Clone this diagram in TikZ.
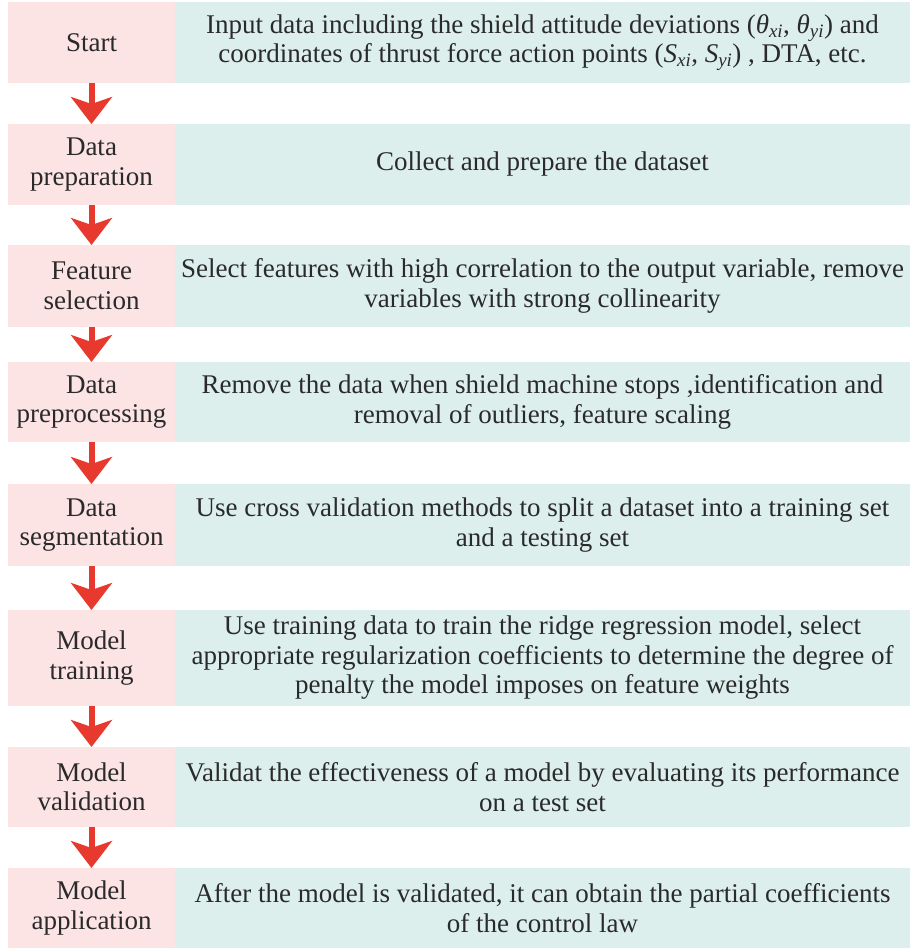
\documentclass[tikz,border=0pt]{standalone}
\usepackage{fontspec}
\setmainfont{Liberation Serif}
\usetikzlibrary{arrows.meta}
\definecolor{stagepink}{HTML}{FCE3E4}
\definecolor{notegreen}{HTML}{DCEFEC}
\definecolor{flowred}{HTML}{E8392E}
\definecolor{ink}{HTML}{2A2A2A}
\tikzset{
  base/.style={inner sep=0pt, outer sep=0pt, align=center, text=ink,
    font=\fontsize{27}{29.5}\selectfont},
  stagebox/.style={base, fill=stagepink, minimum width=167pt},
  notebox/.style={base, fill=notegreen, minimum width=735pt},
  flow/.style={draw=flowred, line width=6pt,
    -{Stealth[length=27pt, width=41pt, inset=7pt, fill=flowred]}},
}
% one row: stage name on the left, description on the right
\newcommand{\steprow}[5]{%
  \node[stagebox, minimum height=#3pt] (s#1) at (91.5, #2) {#4};
  \node[notebox, minimum height=#3pt] (d#1) at (542.5, #2) {#5};
}
\newcommand{\vx}[2]{\textit{#1}\textsubscript{\textit{#2}}}
\begin{document}
\begin{tikzpicture}[x=1pt, y=-1pt]
\useasboundingbox (0,0) rectangle (912,951);
\steprow{1}{42.5}{81}{Start}{Input data including the shield attitude deviations (\vx{θ}{xi}, \vx{θ}{yi}) and\\coordinates of thrust force action points (\vx{S}{xi}, \vx{S}{yi}) , DTA, etc.}
\steprow{2}{164.5}{81}{Data\\preparation}{Collect and prepare the dataset}
\steprow{3}{286}{82}{Feature\\selection}{Select features with high correlation to the output variable, remove\\variables with strong collinearity}
\steprow{4}{402}{80}{Data\\preprocessing}{Remove the data when shield machine stops ,identification and\\removal of outliers, feature scaling}
\steprow{5}{525}{82}{Data\\segmentation}{Use cross validation methods to split a dataset into a training set\\and a testing set}
\steprow{6}{658}{96}{Model\\training}{Use training data to train the ridge regression model, select\\appropriate regularization coefficients to determine the degree of\\penalty the model imposes on feature weights}
\steprow{7}{787}{80}{Model\\validation}{Validat the effectiveness of a model by evaluating its performance\\on a test set}
\steprow{8}{908}{80}{Model\\application}{After the model is validated, it can obtain the partial coefficients\\of the control law}
\foreach \a/\b in {1/2,2/3,3/4,4/5,5/6,6/7,7/8}
  \draw[flow] (s\a.south) -- (s\b.north);
\end{tikzpicture}
\end{document}
